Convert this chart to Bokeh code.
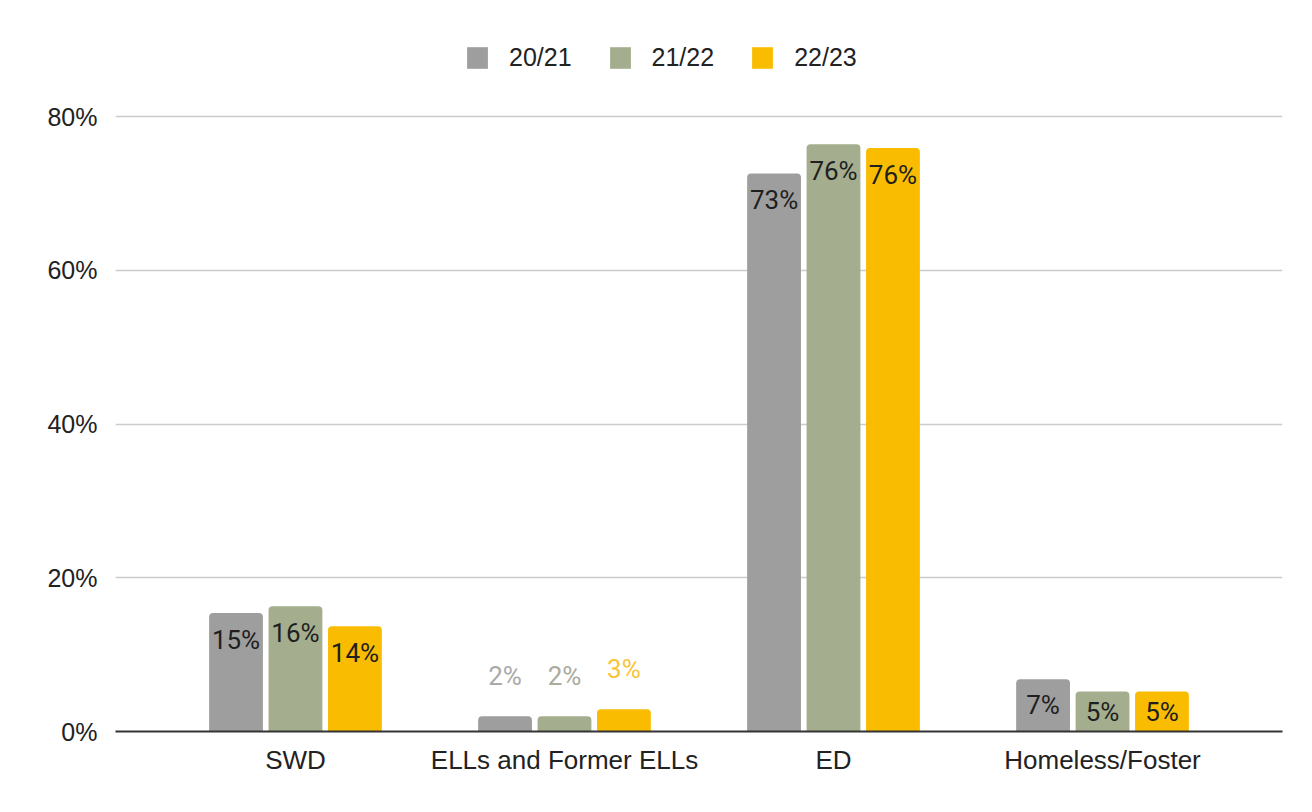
from bokeh.plotting import figure
from bokeh.models import ColumnDataSource, Range1d, FixedTicker, Legend, LegendItem
from bokeh.embed import file_html
from bokeh.resources import INLINE
from bokeh.core.properties import value

categories = ["SWD", "ELLs and Former ELLs", "ED", "Homeless/Foster"]
series_names = ["20/21", "21/22", "22/23"]
vals_2021 = [15.4, 2.0, 72.6, 6.8]
vals_2122 = [16.3, 2.0, 76.4, 5.2]
vals_2223 = [13.7, 2.9, 75.9, 5.2]
y_ticks = [0, 20, 40, 60, 80]

colors = ["#9e9e9e", "#a4ae8f", "#f9bc00"]
label_colors_out = ["#a9a9a9", "#a9ab9c", "#f7c43a"]

W, H = 1304, 804
PX_PER_PCT = 7.6875
FRAME_H = 731
p = figure(width=W, height=H, output_backend="svg", toolbar_location=None,
           x_range=Range1d(-0.669, 3.669), y_range=Range1d(0, FRAME_H / PX_PER_PCT),
           min_border_left=115, min_border_right=22, min_border_top=0, min_border_bottom=73)
p.outline_line_color = None
p.background_fill_color = "white"
p.border_fill_color = "white"

xs = list(range(len(categories)))
offsets = [-0.221, 0.0, 0.221]
renderers = []
for i, (vals, col) in enumerate(zip([vals_2021, vals_2122, vals_2223], colors)):
    src = ColumnDataSource(dict(
        x=[x + offsets[i] for x in xs],
        top=vals,
    ))
    r = p.vbar(x="x", top="top", width=0.2, bottom=0, source=src, fill_color=col,
               line_color=None, border_radius=(4, 4, 0, 0))
    renderers.append(r)
    inside_x, inside_y, inside_t, inside_off = [], [], [], []
    out_x, out_y, out_t = [], [], []
    for x, v in zip(src.data["x"], vals):
        hpx = v * PX_PER_PCT
        txt = f"{round(v)}%"
        if hpx < 30:
            out_x.append(x); out_y.append(v); out_t.append(txt)
        else:
            inside_x.append(x); inside_y.append(v); inside_t.append(txt)
            inside_off.append(min(27, hpx / 2))
    lsrc = ColumnDataSource(dict(x=inside_x, y=inside_y, t=inside_t, off=inside_off))
    p.text(x="x", y="y", text="t", y_offset="off", source=lsrc, text_align="center",
           text_baseline="middle", text_font=value("Roboto"), text_font_size="26px",
           text_color="#1f1f1f")
    osrc = ColumnDataSource(dict(x=out_x, y=out_y, t=out_t))
    p.text(x="x", y="y", text="t", y_offset=-40, source=osrc, text_align="center",
           text_baseline="middle", text_font=value("Roboto"), text_font_size="26px",
           text_color=label_colors_out[i])

# axes
p.xaxis.ticker = FixedTicker(ticks=xs)
p.xaxis.major_label_overrides = {i: c for i, c in enumerate(categories)}
p.xaxis.major_tick_line_color = None
p.xaxis.minor_tick_line_color = None
p.xaxis.axis_line_color = "#333333"
p.xaxis.axis_line_width = 2
p.xaxis.major_label_text_font = "Liberation Sans"
p.xaxis.major_label_text_font_size = "26px"
p.xaxis.major_label_text_color = "#222222"
p.xaxis.major_label_standoff = 7

p.yaxis.ticker = FixedTicker(ticks=y_ticks)
p.yaxis.major_label_overrides = {t: f"{t}%" for t in y_ticks}
p.yaxis.major_tick_line_color = None
p.yaxis.minor_tick_line_color = None
p.yaxis.axis_line_color = None
p.yaxis.major_label_text_font = "Liberation Sans"
p.yaxis.major_label_text_font_size = "25px"
p.yaxis.major_label_text_color = "#222222"
p.yaxis.major_label_standoff = 12

p.xgrid.grid_line_color = None
p.ygrid.grid_line_color = "#cccccc"
p.ygrid.grid_line_width = 1.5

legend = Legend(items=[LegendItem(label=n, renderers=[r]) for n, r in zip(series_names, renderers)],
                orientation="horizontal", location=(349, 659),
                glyph_width=26, glyph_height=27, label_height=27,
                label_standoff=19, spacing=35, padding=0, margin=0,
                border_line_color=None, background_fill_alpha=0,
                label_text_font="Liberation Sans", label_text_font_size="25px",
                label_text_color="#222222")
p.add_layout(legend, "center")

open("out.html", "w").write(file_html(p, INLINE))
